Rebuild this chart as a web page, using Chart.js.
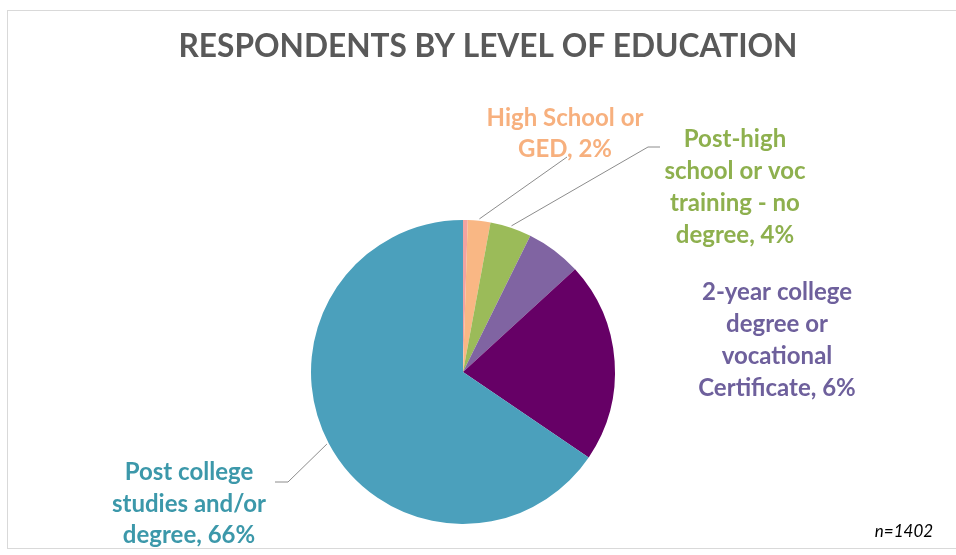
<!DOCTYPE html>
<html><head><meta charset="utf-8">
<script src="https://cdn.jsdelivr.net/npm/chart.js@4"></script>
<style>html,body{margin:0;padding:0;background:#fff}#wrap{width:956px;height:555px;position:relative}</style>
</head><body><div id="wrap"><canvas id="c" width="956" height="555"></canvas></div>
<script>
// ---- data ----
const categories = [
  "Less than high school",
  "High School or GED",
  "Post-high school or voc training - no degree",
  "2-year college degree or vocational Certificate",
  "4-year college degree",
  "Post college studies and/or degree"
];
const values = [0.5, 2.4, 4.4, 5.9, 21.3, 65.5];
const sliceLabels = [
  null,
  ["High School or", "GED, 2%"],
  ["Post-high", "school or voc", "training - no", "degree, 4%"],
  ["2-year college", "degree or", "vocational", "Certificate, 6%"],
  null,
  ["Post college", "studies and/or", "degree, 66%"]
];
const titleText = "RESPONDENTS BY LEVEL OF EDUCATION";
const noteText = "n=1402";

// ---- styles / layout ----
const sliceColors = ["#F2A3A0", "#F9B784", "#9BBB59", "#8064A2", "#660066", "#4BA0BC"];
const labelColors = [null, "#F7B07E", "#8EB04E", "#6E609C", null, "#3C98AA"];
const labelLayout = [
  null,
  {x: 565, y0: 126, dy: 31, leader: [[567,157]]},
  {x: 735, y0: 147, dy: 32, leader: [[648,147],[660,147]]},
  {x: 777, y0: 300, dy: 32, leader: null},
  null,
  {x: 189, y0: 480, dy: 31.5, leader: [[288,482],[275,482]]}
];

const overlay = {
  id: 'overlay',
  afterDraw(chart) {
    const ctx = chart.ctx;
    ctx.save();
    // frame
    ctx.strokeStyle = '#d9d9d9';
    ctx.lineWidth = 1;
    ctx.strokeRect(7.5, 10.5, 960, 538);
    // title
    ctx.fillStyle = '#595959';
    ctx.font = 'bold 33px Lato';
    ctx.textAlign = 'center';
    ctx.textBaseline = 'alphabetic';
    const tw = ctx.measureText(titleText).width;
    const target = 619;
    ctx.save();
    ctx.translate(488, 57);
    ctx.scale(target / tw, 1);
    ctx.fillText(titleText, 0, 0);
    ctx.restore();
    // leader lines + labels
    const meta = chart.getDatasetMeta(0);
    sliceLabels.forEach((lines, i) => {
      if (!lines) return;
      const L = labelLayout[i];
      const arc = meta.data[i];
      if (L.leader) {
        const mid = (arc.startAngle + arc.endAngle) / 2;
        const R = arc.outerRadius + 2;
        ctx.beginPath();
        ctx.moveTo(arc.x + Math.cos(mid) * R, arc.y + Math.sin(mid) * R);
        L.leader.forEach(p => ctx.lineTo(p[0], p[1]));
        ctx.strokeStyle = '#8c8c8c';
        ctx.lineWidth = 1;
        ctx.stroke();
      }
      ctx.fillStyle = labelColors[i];
      ctx.font = 'bold 24px Lato';
      ctx.textAlign = 'center';
      lines.forEach((t, k) => ctx.fillText(t, L.x, L.y0 + k * L.dy));
    });
    // note
    ctx.fillStyle = '#000';
    ctx.font = 'italic 17px Lato';
    ctx.textAlign = 'center';
    ctx.fillText(noteText, 904, 537);
    ctx.restore();
  }
};

new Chart(document.getElementById('c'), {
  type: 'pie',
  data: {
    labels: categories,
    datasets: [{
      data: values,
      backgroundColor: sliceColors,
      borderWidth: 0,
      hoverOffset: 0
    }]
  },
  options: {
    responsive: false,
    devicePixelRatio: 1,
    animation: false,
    layout: {padding: {left: 311, right: 341, top: 220, bottom: 31}},
    plugins: {legend: {display: false}, tooltip: {enabled: false}, title: {display: false}}
  },
  plugins: [overlay]
});
</script>
</body></html>
